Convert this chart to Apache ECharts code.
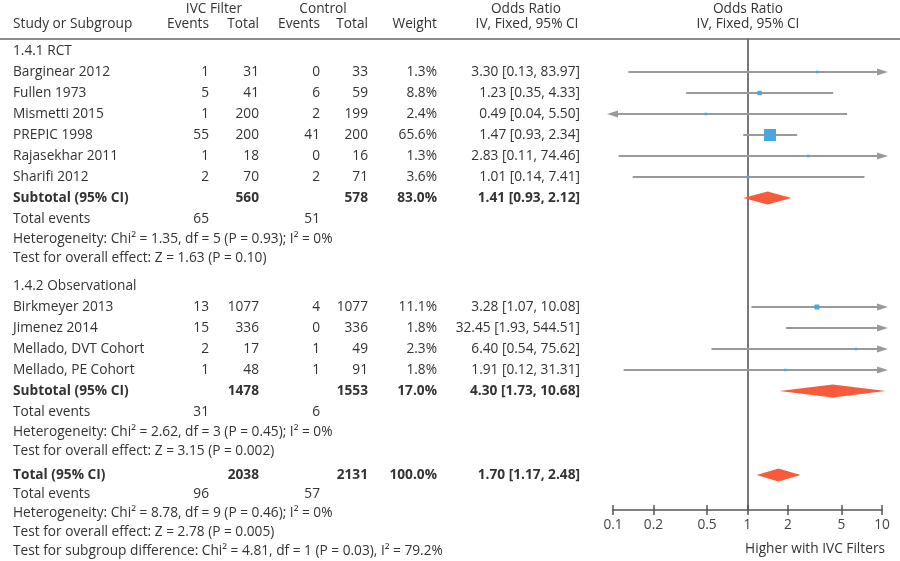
<!DOCTYPE html>
<html><head><meta charset="utf-8">
<script src="https://cdn.jsdelivr.net/npm/echarts@6/dist/echarts.min.js"></script>
<style>html,body{margin:0;padding:0;background:#fff}#c{width:900px;height:561px}</style>
</head><body><div id="c"></div>
<script>
// ---------- DATA ----------
const studies = ['Barginear 2012','Fullen 1973','Mismetti 2015','PREPIC 1998','Rajasekhar 2011','Sharifi 2012','Birkmeyer 2013','Jimenez 2014','Mellado, DVT Cohort','Mellado, PE Cohort'];
const studyGroup = [0,0,0,0,0,0,1,1,1,1];
const ivcEvents = [1,5,1,55,1,2,13,15,2,1];
const ivcTotal = [31,41,200,200,18,70,1077,336,17,48];
const ctlEvents = [0,6,2,41,0,2,4,0,1,1];
const ctlTotal = [33,59,199,200,16,71,1077,336,49,91];
const weights = [1.3,8.8,2.4,65.6,1.3,3.6,11.1,1.8,2.3,1.8];
const oddsRatio = [3.30,1.23,0.49,1.47,2.83,1.01,3.28,32.45,6.40,1.91];
const ciLower = [0.13,0.35,0.04,0.93,0.11,0.14,1.07,1.93,0.54,0.12];
const ciUpper = [83.97,4.33,5.50,2.34,74.46,7.41,10.08,544.51,75.62,31.31];

const groupNames = ['1.4.1 RCT','1.4.2 Observational'];
const subIvcTotal = [560,1478];
const subCtlTotal = [578,1553];
const subIvcEvents = [65,31];
const subCtlEvents = [51,6];
const subWeight = [83.0,17.0];
const subOR = [1.41,4.30];
const subLower = [0.93,1.73];
const subUpper = [2.12,10.68];
const subHetero = ['Heterogeneity: Chi\u00B2 = 1.35, df = 5 (P = 0.93); I\u00B2 = 0%','Heterogeneity: Chi\u00B2 = 2.62, df = 3 (P = 0.45); I\u00B2 = 0%'];
const subTest = ['Test for overall effect: Z = 1.63 (P = 0.10)','Test for overall effect: Z = 3.15 (P = 0.002)'];

const totalIvcTotal = 2038, totalCtlTotal = 2131, totalIvcEvents = 96, totalCtlEvents = 57;
const totalWeight = 100.0, totalOR = 1.70, totalLower = 1.17, totalUpper = 2.48;
const totalNotes = ['Heterogeneity: Chi\u00B2 = 8.78, df = 9 (P = 0.46); I\u00B2 = 0%','Test for overall effect: Z = 2.78 (P = 0.005)','Test for subgroup difference: Chi\u00B2 = 4.81, df = 1 (P = 0.03), I\u00B2 = 79.2%'];

const tickValues = [0.1,0.2,0.5,1,2,5,10];
const tickLabels = ['0.1','0.2','0.5','1','2','5','10'];
const axisTitle = 'Higher with IVC Filters';

// ---------- LAYOUT ----------
const FONT = '"Open Sans", "Noto Sans", sans-serif';
const FS = 13.7;
const TXT = '#333333';
const COL = {name:13, ivcE:209, ivcN:259, ctlE:320, ctlN:368, w:437, or:580};
const STEP = {heading:28, study:21, subtotal:21, events:21, het:20, test:19, total:24, note:19};
const AX_MIN = -1, AX_MAX = 1;

const texts = [];
const forest = [];
function T(t,x,y,a,b){ texts.push({t:String(t),x,y,a:a||'left',b:!!b}); }
const fmtOR = (o,l,h) => o.toFixed(2)+' ['+l.toFixed(2)+', '+h.toFixed(2)+']';

// header
T('IVC Filter',214,9,'center'); T('Control',323,9,'center');
T('Odds Ratio',526,9,'center'); T('Odds Ratio',748,9,'center');
T('Study or Subgroup',COL.name,24); T('Events',COL.ivcE,24,'right'); T('Total',COL.ivcN,24,'right');
T('Events',COL.ctlE,24,'right'); T('Total',COL.ctlN,24,'right'); T('Weight',COL.w,24,'right');
T('IV, Fixed, 95% CI',527,24,'center'); T('IV, Fixed, 95% CI',748,24,'center');

let y = 51, first = true;
function next(kind){ if(!first) y += STEP[kind]; first = false; return y; }

groupNames.forEach((g,gi) => {
  T(g, COL.name, next('heading'));
  studies.forEach((s,i) => {
    if (studyGroup[i] !== gi) return;
    const yy = next('study');
    T(s,COL.name,yy); T(ivcEvents[i],COL.ivcE,yy,'right'); T(ivcTotal[i],COL.ivcN,yy,'right');
    T(ctlEvents[i],COL.ctlE,yy,'right'); T(ctlTotal[i],COL.ctlN,yy,'right');
    T(weights[i].toFixed(1)+'%',COL.w,yy,'right'); T(fmtOR(oddsRatio[i],ciLower[i],ciUpper[i]),COL.or,yy,'right');
    forest.push({kind:'study', or:oddsRatio[i], lo:ciLower[i], hi:ciUpper[i], w:weights[i], y:yy});
  });
  let yy = next('subtotal');
  T('Subtotal (95% CI)',COL.name,yy,'left',true); T(subIvcTotal[gi],COL.ivcN,yy,'right',true);
  T(subCtlTotal[gi],COL.ctlN,yy,'right',true); T(subWeight[gi].toFixed(1)+'%',COL.w,yy,'right',true);
  T(fmtOR(subOR[gi],subLower[gi],subUpper[gi]),COL.or,yy,'right',true);
  forest.push({kind:'diamond', or:subOR[gi], lo:subLower[gi], hi:subUpper[gi], y:yy});
  yy = next('events');
  T('Total events',COL.name,yy); T(subIvcEvents[gi],COL.ivcE,yy,'right'); T(subCtlEvents[gi],COL.ctlE,yy,'right');
  T(subHetero[gi],COL.name,next('het'));
  T(subTest[gi],COL.name,next('test'));
});
let yt = next('total');
T('Total (95% CI)',COL.name,yt,'left',true); T(totalIvcTotal,COL.ivcN,yt,'right',true);
T(totalCtlTotal,COL.ctlN,yt,'right',true); T(totalWeight.toFixed(1)+'%',COL.w,yt,'right',true);
T(fmtOR(totalOR,totalLower,totalUpper),COL.or,yt,'right',true);
forest.push({kind:'diamond', or:totalOR, lo:totalLower, hi:totalUpper, y:yt});
yt = next('note');
T('Total events',COL.name,yt); T(totalIvcEvents,COL.ivcE,yt,'right'); T(totalCtlEvents,COL.ctlE,yt,'right');
totalNotes.forEach(n => T(n,COL.name,next('note')));
T(axisTitle,885,549,'right');

// ---------- CHART ----------
const chart = echarts.init(document.getElementById('c'), null, {renderer:'canvas'});
const lg = v => Math.log10(v);
const GRAY = '#9a9a9a', BLUE = '#4aa6de', RED = '#fa5a3c';

function renderForest(params, api){
  const d = forest[params.dataIndex];
  const ch = [];
  if (d.kind === 'study'){
    const l = lg(d.lo), h = lg(d.hi), o = lg(d.or);
    const p0 = api.coord([Math.max(l,AX_MIN), d.y]), p1 = api.coord([Math.min(h,AX_MAX), d.y]);
    ch.push({type:'line', shape:{x1:p0[0],y1:p0[1],x2:p1[0],y2:p1[1]}, style:{stroke:GRAY, lineWidth:2}});
    if (l < AX_MIN) ch.push({type:'polygon', shape:{points:[[p0[0]-6,p0[1]],[p0[0]+5,p0[1]-3.5],[p0[0]+5,p0[1]+3.5]]}, style:{fill:GRAY}});
    if (h > AX_MAX) ch.push({type:'polygon', shape:{points:[[p1[0]+6,p1[1]],[p1[0]-5,p1[1]-3.5],[p1[0]-5,p1[1]+3.5]]}, style:{fill:GRAY}});
    if (o >= AX_MIN && o <= AX_MAX){
      const c = api.coord([o, d.y]);
      const s = Math.max(2.5, 12*Math.sqrt(d.w/65.6));
      ch.push({type:'rect', shape:{x:c[0]-s/2, y:c[1]-s/2, width:s, height:s}, style:{fill:BLUE}});
    }
  } else {
    const pl = api.coord([lg(d.lo), d.y]), ph = api.coord([lg(d.hi), d.y]), po = api.coord([lg(d.or), d.y]);
    ch.push({type:'polygon', shape:{points:[[pl[0],pl[1]],[po[0],po[1]-6.5],[ph[0],ph[1]],[po[0],po[1]+6.5]]}, style:{fill:RED}});
  }
  return {type:'group', children:ch};
}

function renderText(params, api){
  const d = texts[params.dataIndex];
  const p = api.coord([d.x, d.y]);
  return {type:'text', x:p[0], y:p[1], style:{text:d.t, align:d.a, verticalAlign:'middle',
    fontFamily:FONT, fontSize:FS, fontWeight:d.b?'bold':'normal', fill:TXT}};
}

const tickLog = tickValues.map(lg);
const labelOf = v => { const k = tickLog.findIndex(t => Math.abs(t - v) < 1e-6); return k >= 0 ? tickLabels[k] : ''; };

chart.setOption({
  animation:false,
  grid:[
    {left:0, top:0, width:900, height:561},
    {left:613, right:18, top:39, bottom:51}
  ],
  xAxis:[
    {gridIndex:0, type:'value', min:0, max:900, show:false},
    {gridIndex:1, type:'value', min:AX_MIN, max:AX_MAX, position:'bottom',
      axisLine:{show:true, onZero:false, lineStyle:{color:'#555', width:1.5}},
      axisTick:{show:true, inside:false, length:5, customValues:tickLog, lineStyle:{color:'#555', width:1.5}},
      axisLabel:{show:true, customValues:tickLog, formatter:labelOf, margin:8, color:'#444', fontFamily:FONT, fontSize:FS},
      splitLine:{show:false}},
    {gridIndex:1, type:'value', min:AX_MIN, max:AX_MAX, position:'bottom',
      axisLine:{show:false, onZero:false},
      axisTick:{show:true, inside:true, length:5, customValues:tickLog, lineStyle:{color:'#555', width:1.5}},
      axisLabel:{show:false}, splitLine:{show:false}}
  ],
  yAxis:[
    {gridIndex:0, type:'value', min:0, max:561, inverse:true, show:false},
    {gridIndex:1, type:'value', min:39, max:510, inverse:true,
      axisLine:{show:true, onZero:true, onZeroAxisIndex:1, lineStyle:{color:'#777', width:2}},
      axisTick:{show:false}, axisLabel:{show:false}, splitLine:{show:false}}
  ],
  graphic:[{type:'line', shape:{x1:0, y1:39, x2:900, y2:39}, style:{stroke:'#666', lineWidth:1.5}}],
  series:[
    {type:'custom', xAxisIndex:1, yAxisIndex:1, clip:false, renderItem:renderForest,
      data: forest.map(d => [lg(d.or), d.y]), encode:{x:0, y:1}},
    {type:'custom', xAxisIndex:0, yAxisIndex:0, clip:false, renderItem:renderText,
      data: texts.map(d => [d.x, d.y]), encode:{x:0, y:1}}
  ]
});
</script></body></html>
